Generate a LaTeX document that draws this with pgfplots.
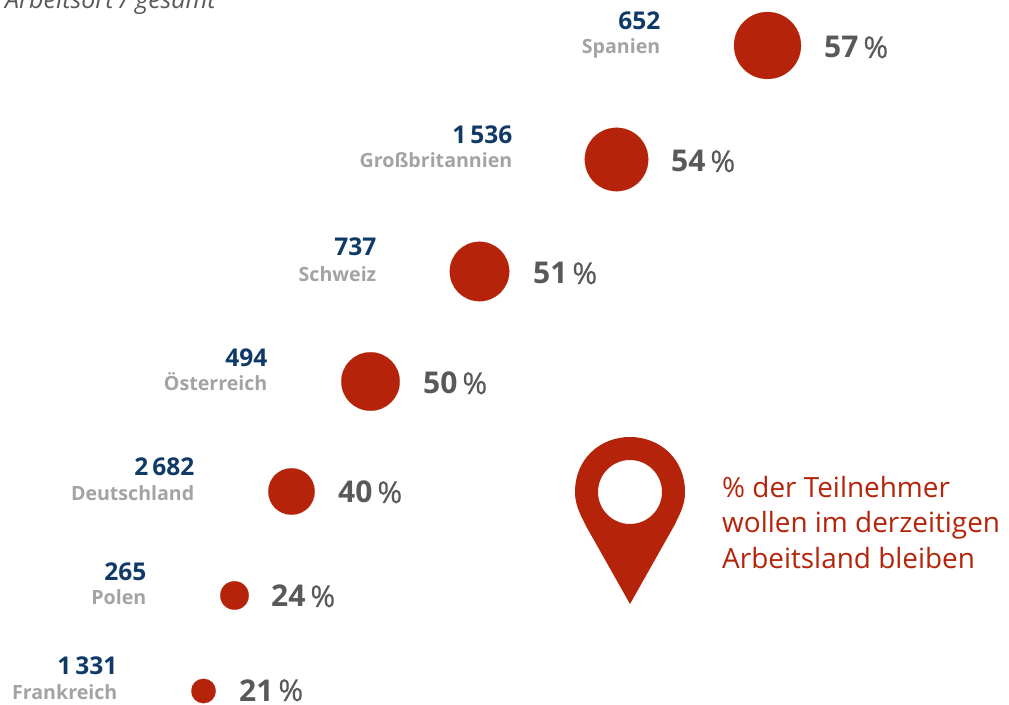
\documentclass[border=0pt]{standalone}
\usepackage{pgfplots}
\pgfplotsset{compat=1.18}
\usepackage{fontspec}
\setmainfont{Open Sans}
\newfontfamily\pctf[FakeBold=0.6]{Open Sans}
\definecolor{rd}{HTML}{B5240A}
\definecolor{nv}{HTML}{0F3A68}
\definecolor{gl}{HTML}{A3A3A3}
\definecolor{gd}{HTML}{595959}
\pgfplotsset{bub/.style={only marks,mark=*,mark size=#1,color=rd,mark options={draw=rd,fill=rd,line width=0.1pt}}}
\begin{document}
\begin{tikzpicture}[x=1pt,y=1pt]
\clip (0,0) rectangle (1009,704);
\begin{axis}[at={(0,0)},anchor=south west,scale only axis,width=1009pt,height=704pt,
  xmin=0,xmax=1009,ymin=0,ymax=704,hide axis,clip=false]
\addplot[bub=33.5pt] coordinates {(767.5,658.5)};
\addplot[bub=31.75pt] coordinates {(616.5,544.5)};
\addplot[bub=29.75pt] coordinates {(479.5,432.5)};
\addplot[bub=29.25pt] coordinates {(370.5,322.5)};
\addplot[bub=23.25pt] coordinates {(291.5,212.5)};
\addplot[bub=14.25pt] coordinates {(234.5,108.5)};
\addplot[bub=12.25pt] coordinates {(203.5,13)};
\end{axis}
\def\pct#1#2#3#4{\node[anchor=base west,inner sep=0pt,text=gd,font=\fontsize{30}{30}\selectfont] at (#1,#2) {\textbf{#3}\,{\pctf #4}};}
\def\cnt#1#2#3#4#5{\node[anchor=base east,inner sep=0pt,text=nv,font=\fontsize{24.5}{24.5}\selectfont\bfseries] at (#1,#2) {#4};
\node[anchor=base east,inner sep=0pt,text=gl,font=\fontsize{19.6}{19.6}\selectfont\bfseries] at (#1,#3) {#5};}
\pct{824}{646}{57}{\%}\cnt{660.5}{674}{650}{652}{Spanien}
\pct{671}{532}{54}{\%}\cnt{512.5}{560}{536}{1\,536}{Großbritannien}
\pct{533}{420}{51}{\%}\cnt{376.5}{448}{422}{737}{Schweiz}
\pct{423}{310}{50}{\%}\cnt{267.5}{337}{313}{494}{Österreich}
\pct{338}{201}{40}{\%}\cnt{194.5}{228}{203}{2\,682}{Deutschland}
\pct{271}{97}{24}{\%}\cnt{146.5}{123}{99}{265}{Polen}
\pct{239}{3}{21}{\%}\cnt{117.5}{30}{5}{1\,331}{Frankreich}
\node[anchor=base west,inner sep=0pt,text=gd,font=\fontsize{25}{25}\selectfont\itshape] at (5,695) {Arbeitsort / gesamt};
\fill[rd,even odd rule] (630,100) -- (586,178) .. controls (579,192) and (575,200) .. (575,212) .. controls (575,245) and (600,267) .. (630,267) .. controls (660,267) and (685,245) .. (685,212) .. controls (685,200) and (681,192) .. (674,178) -- cycle (630,212) circle (32);
\begin{scope}[every node/.style={anchor=base west,inner sep=0pt,text=rd,font=\fontsize{27.9}{27.9}\selectfont}]
\node at (722,206) {\% der Teilnehmer};
\node at (722,171) {wollen im derzeitigen};
\node at (722,135.5) {Arbeitsland bleiben};
\end{scope}
\end{tikzpicture}
\end{document}
